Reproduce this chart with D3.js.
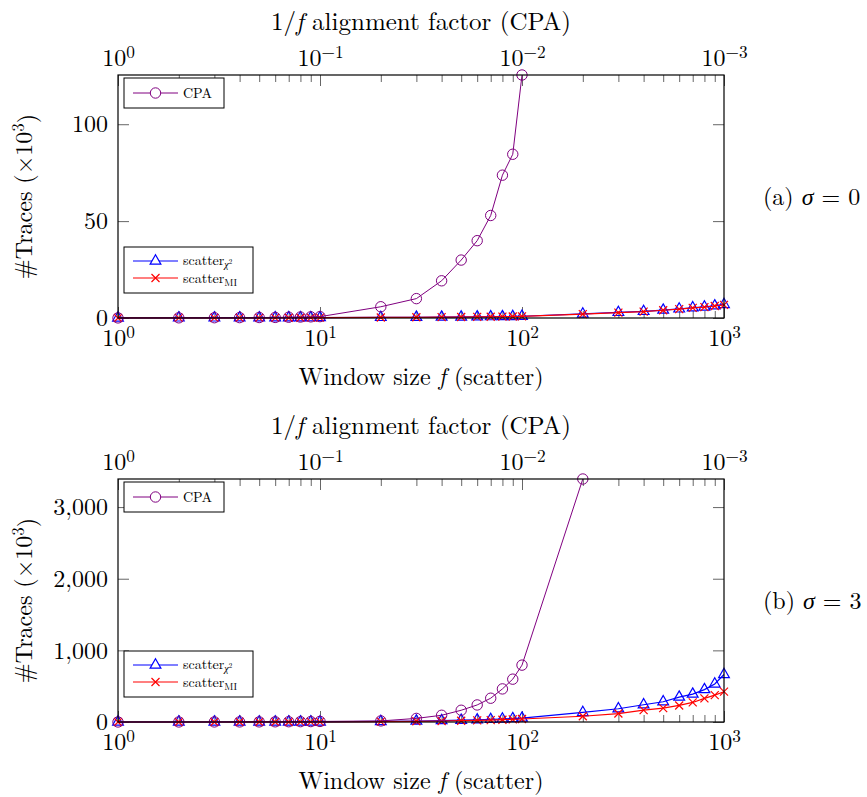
<!DOCTYPE html>
<html><head><meta charset="utf-8">
<script src="https://cdn.jsdelivr.net/npm/d3@7"></script>
<style>
body{margin:0;background:#fff}
svg{display:block}
</style>
</head><body>
<svg id="chart" width="867" height="797"></svg>
<script>
// ---------------- data ----------------
const fValues = [1,2,3,4,5,6,7,8,9,10,20,30,40,50,60,70,80,90,100,200,300,400,500,600,700,800,900,1000];

// panel (a) sigma = 0
const cpaA  = [0.05,0.1,0.15,0.2,0.25,0.3,0.4,0.5,0.6,0.7,5.8,10.0,19.2,29.9,39.9,52.9,73.7,84.5,125.4]; // f = 1..100
const chiA  = [0.02,0.04,0.06,0.08,0.1,0.12,0.14,0.16,0.18,0.2,0.3,0.4,0.5,0.55,0.6,0.7,0.75,0.8,0.9,2.1,2.9,3.4,4.1,4.7,5.3,5.7,6.3,7.0];
const miA   = [0.02,0.03,0.05,0.07,0.09,0.1,0.12,0.14,0.16,0.18,0.28,0.37,0.45,0.5,0.55,0.63,0.7,0.75,0.85,2.0,2.8,3.3,4.0,4.6,5.2,5.6,6.2,6.8];

// panel (b) sigma = 3
const cpaB  = [0.3,0.6,1,1.5,2,3,4,5,6,8,15,50,94,164,238,332,462,598,794,3392]; // f = 1..200
const chiB  = [0.1,0.2,0.3,0.4,0.5,0.6,0.7,0.8,0.9,1,8,14,20,25,30,36,42,48,55,133,185,241,283,348,390,452,531,663];
const miB   = [0.1,0.15,0.2,0.3,0.4,0.5,0.6,0.7,0.8,0.9,6,10,14,18,22,27,32,37,42,80,118,165,193,231,273,329,376,423];

const xMajor = [1,10,100,1000];
const xMinor = [2,3,4,5,6,7,8,9,20,30,40,50,60,70,80,90,200,300,400,500,600,700,800,900];
const invMajor = [1,0.1,0.01,0.001];
const yTicksA = [0,50,100];
const yTicksB = [0,1000,2000,3000];
const panelNames = ["(a) ", "(b) "];
const sigmaVals = ["0","3"];

// ---------------- drawing ----------------
const FONT = '"Latin Modern Roman", "Liberation Serif", serif';
const svg = d3.select("#chart");
const L = 118, R = 724;
const COL = {cpa:"#800080", chi:"#0000ff", mi:"#ff0000"};

function supLabel(sel, base, exp, size){
  sel.text(null);
  sel.append("tspan").text(base);
  sel.append("tspan").attr("dy","-0.45em").attr("font-size", size*0.72).text(exp);
}
function txt(parent){ return parent.append("text").attr("font-family",FONT).attr("fill","#000"); }

function panel(top, bottom, cpa, chi, mi, yTicks, idx){
  const x = d3.scaleLog().domain([1,1000]).range([L,R]);
  const xi = d3.scaleLog().domain([1,0.001]).range([L,R]);
  const y = d3.scaleLinear().domain([0, d3.max(cpa)]).range([bottom, top]);
  const g = svg.append("g");

  const mb = g.append("g").attr("transform",`translate(0,${bottom})`)
    .call(d3.axisBottom(x).tickValues(xMinor).tickSizeInner(-7).tickSizeOuter(0).tickFormat(""));
  const mt = g.append("g").attr("transform",`translate(0,${top})`)
    .call(d3.axisTop(x).tickValues(xMinor).tickSizeInner(-7).tickSizeOuter(0).tickFormat(""));
  const ab = g.append("g").attr("transform",`translate(0,${bottom})`)
    .call(d3.axisBottom(x).tickValues(xMajor).tickSizeInner(-11).tickSizeOuter(0).tickPadding(0));
  ab.selectAll(".tick text").attr("y",28).attr("dy",0).each(function(d){
    supLabel(d3.select(this),"10",String(Math.round(Math.log10(d))),24);
  });
  const at = g.append("g").attr("transform",`translate(0,${top})`)
    .call(d3.axisTop(xi).tickValues(invMajor).tickSizeInner(-11).tickSizeOuter(0).tickPadding(0));
  at.selectAll(".tick text").attr("y",-9).attr("dy",0).each(function(d){
    const e = Math.round(Math.log10(d));
    supLabel(d3.select(this),"10", e<0 ? "\u2212"+(-e) : String(e),24);
  });
  const al = g.append("g").attr("transform",`translate(${L},0)`)
    .call(d3.axisLeft(y).tickValues(yTicks).tickSizeInner(-11).tickSizeOuter(0).tickPadding(10).tickFormat(d3.format(",")));
  al.selectAll(".tick text").attr("dy","0.32em");
  const ar = g.append("g").attr("transform",`translate(${R},0)`)
    .call(d3.axisRight(y).tickValues(yTicks).tickSizeInner(-11).tickSizeOuter(0).tickFormat(""));

  [mb,mt,ab,at,al,ar].forEach(a=>{
    a.select(".domain").remove();
    a.attr("font-family",FONT).attr("font-size",24);
    a.selectAll(".tick text").attr("font-family",FONT).attr("font-size",24).attr("fill","#000");
    a.selectAll(".tick line").attr("stroke","#666").attr("stroke-width",1);
  });

  const line = d3.line().x(d=>x(d[0])).y(d=>y(d[1]));
  const ser = (vals)=> vals.map((v,i)=>[fValues[i],v]);
  const sChi = ser(chi), sMi = ser(mi), sCpa = ser(cpa);

  const tri = d3.symbol().type(d3.symbolTriangle).size(50);
  const xMark = "M-4,-4L4,4M-4,4L4,-4";

  g.append("path").attr("d",line(sChi)).attr("fill","none").attr("stroke",COL.chi).attr("stroke-width",1.2);
  g.selectAll(".tri").data(sChi).join("path").attr("d",tri)
    .attr("transform",d=>`translate(${x(d[0])},${y(d[1])})`)
    .attr("fill","none").attr("stroke",COL.chi).attr("stroke-width",1.2);

  g.append("path").attr("d",line(sMi)).attr("fill","none").attr("stroke",COL.mi).attr("stroke-width",1.2);
  g.selectAll(".xm").data(sMi).join("path").attr("d",xMark)
    .attr("transform",d=>`translate(${x(d[0])},${y(d[1])})`)
    .attr("fill","none").attr("stroke",COL.mi).attr("stroke-width",1.2);

  g.append("path").attr("d",line(sCpa)).attr("fill","none").attr("stroke",COL.cpa).attr("stroke-width",1);
  g.selectAll(".cir").data(sCpa).join("circle")
    .attr("cx",d=>x(d[0])).attr("cy",d=>y(d[1])).attr("r",5.2)
    .attr("fill","none").attr("stroke",COL.cpa).attr("stroke-width",1);

  g.append("rect").attr("x",L).attr("y",top).attr("width",R-L).attr("height",bottom-top)
    .attr("fill","none").attr("stroke","#000").attr("stroke-width",1.2);

  const l1 = g.append("g").attr("transform",`translate(124,${top+3})`);
  l1.append("rect").attr("width",100).attr("height",30).attr("fill","#fff").attr("stroke","#000").attr("stroke-width",1);
  l1.append("line").attr("x1",9).attr("x2",54).attr("y1",15).attr("y2",15).attr("stroke",COL.cpa);
  l1.append("circle").attr("cx",31.5).attr("cy",15).attr("r",5.2).attr("fill","#fff").attr("stroke",COL.cpa);
  txt(l1).attr("x",59).attr("y",20).attr("font-size",14).text("CPA");

  const l2 = g.append("g").attr("transform",`translate(124,${bottom-71})`);
  l2.append("rect").attr("width",129).attr("height",46).attr("fill","#fff").attr("stroke","#000").attr("stroke-width",1);
  l2.append("line").attr("x1",9).attr("x2",54).attr("y1",14).attr("y2",14).attr("stroke",COL.chi).attr("stroke-width",1.2);
  l2.append("path").attr("d",tri).attr("transform","translate(31.5,14)").attr("fill","#fff").attr("stroke",COL.chi).attr("stroke-width",1.2);
  const t1 = txt(l2).attr("x",59).attr("y",18).attr("font-size",14);
  t1.append("tspan").text("scatter");
  t1.append("tspan").attr("dy",3).attr("font-size",10).attr("font-style","italic").text("\u03c7");
  t1.append("tspan").attr("dy",-4).attr("font-size",7).text("2");
  l2.append("line").attr("x1",9).attr("x2",54).attr("y1",31).attr("y2",31).attr("stroke",COL.mi).attr("stroke-width",1.2);
  l2.append("path").attr("d",xMark).attr("transform","translate(31.5,31)").attr("fill","none").attr("stroke",COL.mi).attr("stroke-width",1.2);
  const t2 = txt(l2).attr("x",59).attr("y",36).attr("font-size",14);
  t2.append("tspan").text("scatter");
  t2.append("tspan").attr("dy",3).attr("font-size",10).text("MI");

  const xt = txt(g).attr("x",(L+R)/2).attr("y",bottom+67).attr("text-anchor","middle").attr("font-size",24);
  xt.append("tspan").text("Window size ");
  xt.append("tspan").attr("font-style","italic").text("f");
  xt.append("tspan").text(" (scatter)");

  const tt = txt(g).attr("x",(L+R)/2).attr("y",top-45).attr("text-anchor","middle").attr("font-size",25);
  tt.append("tspan").text("1/");
  tt.append("tspan").attr("font-style","italic").text("f");
  tt.append("tspan").text(" alignment factor (CPA)");

  const yt = txt(g).attr("transform",`translate(32,${(top+bottom)/2}) rotate(-90)`)
    .attr("text-anchor","middle").attr("font-size",24);
  yt.append("tspan").text("#Traces (\u00d710");
  yt.append("tspan").attr("dy","-0.45em").attr("font-size",17).text("3");
  yt.append("tspan").attr("dy","0.45em").text(")");

  const pl = txt(g).attr("x",763).attr("y",(top+bottom)/2+8).attr("font-size",24);
  pl.append("tspan").text(panelNames[idx]);
  pl.append("tspan").attr("font-style","italic").text("\u03c3");
  pl.append("tspan").text(" = "+sigmaVals[idx]);
}

panel(75, 318, cpaA, chiA, miA, yTicksA, 0);
panel(479, 722, cpaB, chiB, miB, yTicksB, 1);
</script>
</body></html>
